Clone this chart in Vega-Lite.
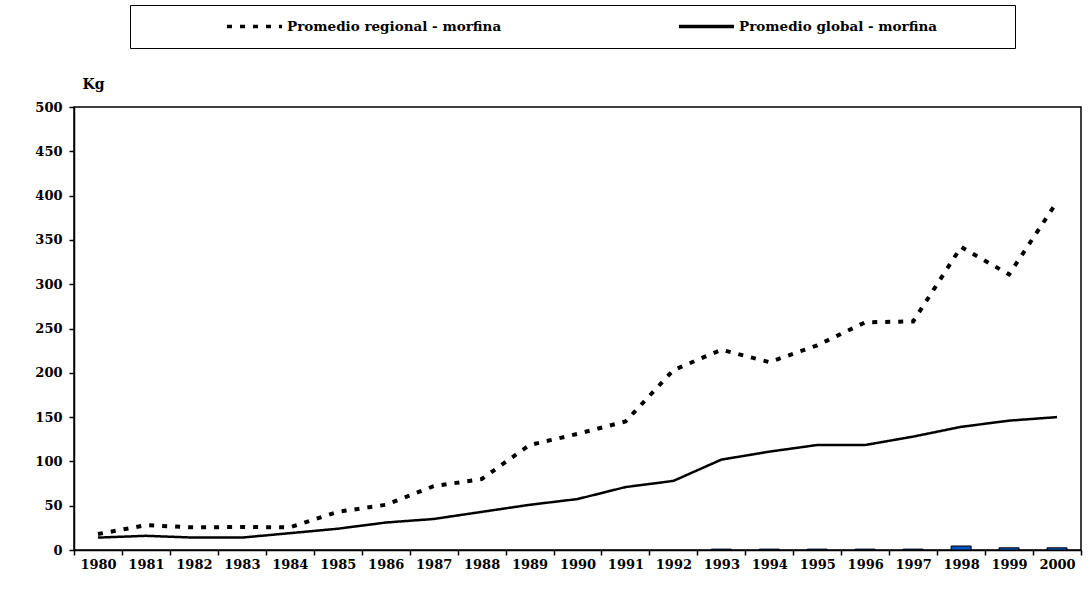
{
  "$schema": "https://vega.github.io/schema/vega-lite/v6.json",
  "width": 1007,
  "height": 443,
  "autosize": "none",
  "padding": {"left": 74, "top": 107, "right": 11, "bottom": 65},
  "background": "white",
  "config": {
    "view": {"stroke": "black", "strokeWidth": 1.5},
    "font": "DejaVu Serif"
  },
  "datasets": {
    "lines": [
      {"year": "1980", "series": "Promedio regional - morfina", "kg": 18},
      {"year": "1981", "series": "Promedio regional - morfina", "kg": 28},
      {"year": "1982", "series": "Promedio regional - morfina", "kg": 25.5},
      {"year": "1983", "series": "Promedio regional - morfina", "kg": 26},
      {"year": "1984", "series": "Promedio regional - morfina", "kg": 25.5},
      {"year": "1985", "series": "Promedio regional - morfina", "kg": 43},
      {"year": "1986", "series": "Promedio regional - morfina", "kg": 51},
      {"year": "1987", "series": "Promedio regional - morfina", "kg": 72},
      {"year": "1988", "series": "Promedio regional - morfina", "kg": 80},
      {"year": "1989", "series": "Promedio regional - morfina", "kg": 118.5},
      {"year": "1990", "series": "Promedio regional - morfina", "kg": 131},
      {"year": "1991", "series": "Promedio regional - morfina", "kg": 145},
      {"year": "1992", "series": "Promedio regional - morfina", "kg": 203},
      {"year": "1993", "series": "Promedio regional - morfina", "kg": 226},
      {"year": "1994", "series": "Promedio regional - morfina", "kg": 212},
      {"year": "1995", "series": "Promedio regional - morfina", "kg": 231},
      {"year": "1996", "series": "Promedio regional - morfina", "kg": 257},
      {"year": "1997", "series": "Promedio regional - morfina", "kg": 258},
      {"year": "1998", "series": "Promedio regional - morfina", "kg": 342},
      {"year": "1999", "series": "Promedio regional - morfina", "kg": 311},
      {"year": "2000", "series": "Promedio regional - morfina", "kg": 393},
      {"year": "1980", "series": "Promedio global - morfina", "kg": 14},
      {"year": "1981", "series": "Promedio global - morfina", "kg": 16},
      {"year": "1982", "series": "Promedio global - morfina", "kg": 14},
      {"year": "1983", "series": "Promedio global - morfina", "kg": 14},
      {"year": "1984", "series": "Promedio global - morfina", "kg": 19},
      {"year": "1985", "series": "Promedio global - morfina", "kg": 24},
      {"year": "1986", "series": "Promedio global - morfina", "kg": 31},
      {"year": "1987", "series": "Promedio global - morfina", "kg": 35},
      {"year": "1988", "series": "Promedio global - morfina", "kg": 43},
      {"year": "1989", "series": "Promedio global - morfina", "kg": 51},
      {"year": "1990", "series": "Promedio global - morfina", "kg": 57.5},
      {"year": "1991", "series": "Promedio global - morfina", "kg": 71},
      {"year": "1992", "series": "Promedio global - morfina", "kg": 78},
      {"year": "1993", "series": "Promedio global - morfina", "kg": 102},
      {"year": "1994", "series": "Promedio global - morfina", "kg": 111},
      {"year": "1995", "series": "Promedio global - morfina", "kg": 118.5},
      {"year": "1996", "series": "Promedio global - morfina", "kg": 118.5},
      {"year": "1997", "series": "Promedio global - morfina", "kg": 128},
      {"year": "1998", "series": "Promedio global - morfina", "kg": 139},
      {"year": "1999", "series": "Promedio global - morfina", "kg": 146},
      {"year": "2000", "series": "Promedio global - morfina", "kg": 150}
    ],
    "bars": [
      {"year": "1993", "kg": 1},
      {"year": "1994", "kg": 1},
      {"year": "1995", "kg": 1},
      {"year": "1996", "kg": 1},
      {"year": "1997", "kg": 1},
      {"year": "1998", "kg": 4.5},
      {"year": "1999", "kg": 2.5},
      {"year": "2000", "kg": 2.5}
    ]
  },
  "layer": [
    {
      "data": {"name": "bars"},
      "mark": {"type": "bar", "width": 20, "fill": "#0055c0", "stroke": "black", "strokeWidth": 1},
      "encoding": {
        "x": {"field": "year", "type": "ordinal", "scale": {"type": "band", "paddingInner": 0, "paddingOuter": 0}},
        "y": {"field": "kg", "type": "quantitative"}
      }
    },
    {
      "data": {"name": "lines"},
      "mark": {"type": "line", "color": "black"},
      "encoding": {
        "x": {
          "field": "year",
          "type": "ordinal",
          "scale": {"type": "band", "paddingInner": 0, "paddingOuter": 0},
          "axis": {
            "title": null,
            "labelAngle": 0,
            "labelAlign": "center",
            "labelFont": "DejaVu Serif",
            "labelFontWeight": "bold",
            "labelFontSize": 13,
            "labelColor": "black",
            "labelPadding": 9,
            "tickBand": "extent",
            "tickSize": 5,
            "tickColor": "black",
            "tickWidth": 1.5,
            "domainColor": "black",
            "domainWidth": 1.5
          }
        },
        "y": {
          "field": "kg",
          "type": "quantitative",
          "scale": {"domain": [0, 500], "nice": false},
          "axis": {
            "values": [0, 50, 100, 150, 200, 250, 300, 350, 400, 450, 500],
            "grid": false,
            "title": "Kg",
            "titleAngle": 0,
            "titleX": 19,
            "titleY": -23,
            "titleAlign": "center",
            "titleBaseline": "middle",
            "titleFont": "DejaVu Serif",
            "titleFontWeight": "bold",
            "titleFontSize": 14,
            "titleColor": "black",
            "labelFont": "DejaVu Serif",
            "labelFontWeight": "bold",
            "labelFontSize": 13,
            "labelColor": "black",
            "labelPadding": 7,
            "tickSize": 5,
            "tickColor": "black",
            "tickWidth": 1.5,
            "domainColor": "black",
            "domainWidth": 1.5
          }
        },
        "strokeDash": {
          "field": "series",
          "type": "nominal",
          "scale": {
            "domain": ["Promedio regional - morfina", "Promedio global - morfina"],
            "range": [[5, 8], [1, 0]]
          },
          "legend": {
            "orient": "none",
            "legendX": 56,
            "legendY": -102,
            "direction": "horizontal",
            "columns": 2,
            "columnPadding": 175,
            "padding": 14,
            "strokeColor": "black",
            "title": "\u00a0",
            "titleOrient": "left",
            "titlePadding": 81,
            "titleFontSize": 13,
            "clipHeight": 15,
            "symbolType": "stroke",
            "symbolSize": 3025,
            "symbolStrokeWidth": 3.5,
            "symbolStrokeColor": "black",
            "labelOffset": 3,
            "labelLimit": 800,
            "labelFont": "DejaVu Serif",
            "labelFontWeight": "bold",
            "labelFontSize": 13.5,
            "labelColor": "black",
            "labelExpr": "datum.label == 'Promedio global - morfina' ? datum.label + '\u2800\u2800\u2800\u2800\u2800\u2800' : datum.label"
          }
        },
        "strokeWidth": {
          "condition": {"test": "datum.series == 'Promedio regional - morfina'", "value": 4},
          "value": 2.5
        }
      }
    }
  ]
}
